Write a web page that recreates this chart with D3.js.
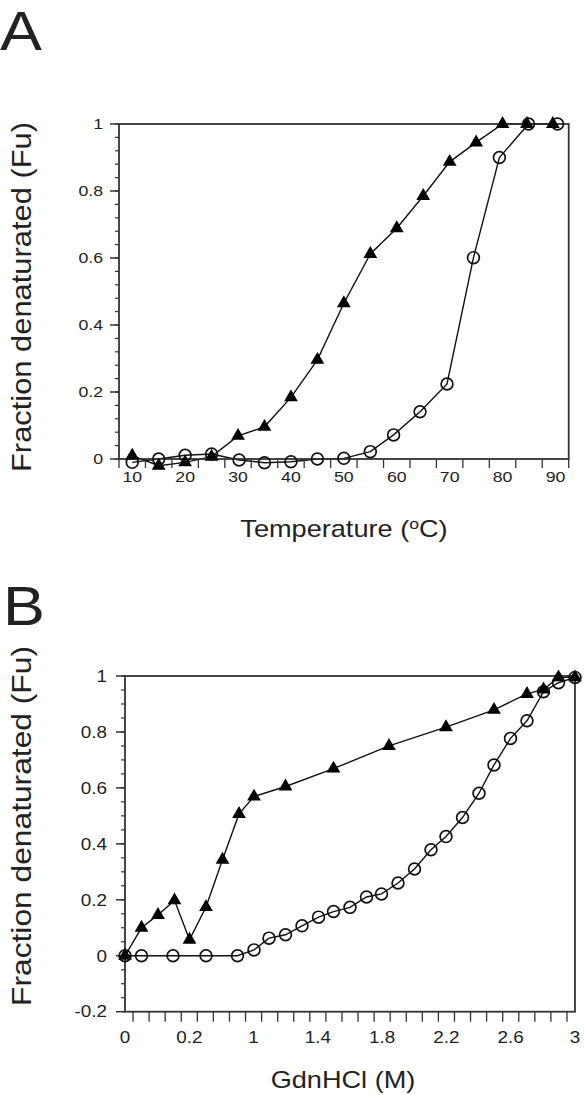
<!DOCTYPE html>
<html><head><meta charset="utf-8">
<script src="https://cdn.jsdelivr.net/npm/d3@7"></script>
<style>
body{margin:0;background:#fff}
svg{display:block}
text{font-family:"Liberation Sans",Arial,Helvetica,sans-serif;fill:#222}
</style>
</head><body>
<svg id="chart" width="584" height="1095"></svg>
<script>
// ---------- Panel A : thermal denaturation ----------
const tempTri  = [10,15,20,25,30,35,40,45,50,55,60,65,70,75,80,84.6,89.5];
const fuTriA   = [0.01,-0.02,-0.01,0.007,0.069,0.096,0.184,0.296,0.465,0.612,0.689,0.785,0.887,0.945,1,1,1];
const tempCirc = [10,15,20,25,30.2,35,40,45,50,55,59.4,64.4,69.5,74.5,79.4,84.9,90.4];
const fuCircA  = [-0.01,0,0.011,0.015,-0.003,-0.011,-0.008,0,0.002,0.022,0.072,0.141,0.224,0.601,0.9,1,1];
const tempTicks  = [7.5,12.5,17.5,22.5,27.5,32.5,37.5,42.5,47.5,52.5,57.5,62.5,67.5,72.5,77.5,82.5,87.5,92.5];
const tempLabels = [10,20,30,40,50,60,70,80,90];
const fuTicksA   = [0,0.2,0.4,0.6,0.8,1];
const fuLabelsA  = ["0","0.2","0.4","0.6","0.8","1"];

// ---------- Panel B : GdnHCl denaturation ----------
const gdnTri  = [0,0.11,0.22,0.33,0.43,0.54,0.65,0.76,0.86,1.07,1.39,1.76,2.14,2.46,2.68,2.79,2.89,3.0];
const fuTriB  = [0,0.10,0.146,0.198,0.057,0.174,0.343,0.507,0.569,0.605,0.669,0.75,0.817,0.879,0.936,0.952,0.995,0.995];
const gdnCirc = [0,0.11,0.32,0.54,0.75,0.86,0.96,1.07,1.18,1.29,1.39,1.5,1.61,1.71,1.82,1.93,2.04,2.14,2.25,2.36,2.46,2.57,2.68,2.79,2.89,3.0];
const fuCircB = [0,0,0,0,0,0.021,0.063,0.075,0.107,0.138,0.158,0.173,0.21,0.221,0.26,0.31,0.379,0.426,0.494,0.581,0.682,0.777,0.84,0.944,0.976,0.995];
const gdnTickCount = 28;                 // minor ticks at band centres
const gdnLabelPos  = [0,3/7,6/7,9/7,12/7,15/7,18/7,3];
const gdnLabels    = ["0","0.2","1","1.4","1.8","2.2","2.6","3"];
const fuTicksB  = [-0.2,0,0.2,0.4,0.6,0.8,1];
const fuLabelsB = ["-0.2","0","0.2","0.4","0.6","0.8","1"];

const svg = d3.select("#chart");
const SX = 1.18; // horizontal stretch of the original figure's lettering
const axisCol = "#333", lineCol = "#111";

function panel(o){
  const g = svg.append("g");
  const x = o.x, y = o.y;
  const [x0,x1] = x.range(), [yb,yt] = y.range();
  const line = d3.line().x(d=>x(d[0])).y(d=>y(d[1]));
  const triPts = o.triX.map((v,i)=>[v,o.triY[i]]);
  const cirPts = o.cirX.map((v,i)=>[v,o.cirY[i]]);
  g.append("path").attr("d",line(triPts)).attr("fill","none").attr("stroke",lineCol).attr("stroke-width",1.4);
  g.append("path").attr("d",line(cirPts)).attr("fill","none").attr("stroke",lineCol).attr("stroke-width",1.4);
  g.append("rect").attr("x",x0).attr("y",yt).attr("width",x1-x0).attr("height",yb-yt)
    .attr("fill","none").attr("stroke",axisCol).attr("stroke-width",1.8);
  o.xTicks.forEach(t=>{
    g.append("line").attr("x1",x(t)).attr("x2",x(t)).attr("y1",yb).attr("y2",yb+o.xTickLen)
      .attr("stroke",axisCol).attr("stroke-width",1.3);
  });
  o.xLabelPos.forEach((t,i)=>{
    g.append("g").attr("transform",`translate(${x(t)},${yb+o.xLabelDy})`)
      .append("text").attr("text-anchor","middle").attr("transform",`scale(${SX},1)`)
      .style("font-size",o.tickFont+"px").text(o.xLabels[i]);
  });
  o.yMinor.forEach(t=>{
    g.append("line").attr("x1",x0-4).attr("x2",x0).attr("y1",y(t)).attr("y2",y(t))
      .attr("stroke",axisCol).attr("stroke-width",1.2);
  });
  o.yTicks.forEach((t,i)=>{
    g.append("line").attr("x1",x0-9).attr("x2",x0).attr("y1",y(t)).attr("y2",y(t))
      .attr("stroke",axisCol).attr("stroke-width",1.5);
    g.append("g").attr("transform",`translate(${x0-o.yLabelDx},${y(t)})`)
      .append("text").attr("text-anchor","end").attr("dy","0.36em").attr("transform",`scale(${SX},1)`)
      .style("font-size",o.tickFont+"px").text(o.yLabels[i]);
  });
  g.selectAll(".tri").data(triPts).join("path")
    .attr("transform",d=>`translate(${x(d[0])},${y(d[1])})`)
    .attr("d",d3.symbol(d3.symbolTriangle,82)()).attr("fill","#000");
  g.selectAll(".cir").data(cirPts).join("circle")
    .attr("cx",d=>x(d[0])).attr("cy",d=>y(d[1])).attr("r",5.9)
    .attr("fill","none").attr("stroke","#111").attr("stroke-width",1.7);
  g.append("g").attr("transform",`translate(${o.yTitleX},${o.yTitleY}) rotate(-90) scale(1,${SX})`)
    .append("text").attr("text-anchor","middle").style("font-size","23px")
    .attr("textLength",o.yTitleLen).attr("lengthAdjust","spacingAndGlyphs")
    .text("Fraction denaturated (Fu)");
  svg.append("g").attr("transform",`translate(${o.letterX},${o.letterY})`)
    .append("text").attr("transform",`scale(${SX*0.95},1)`).style("font-size","56px").text(o.letter);
  return g;
}

// Panel A
const xA = d3.scaleLinear().domain([7.5,92.5]).range([119,568.7]);
const yA = d3.scaleLinear().domain([0,1]).range([459,124]);
const gA = panel({
  x:xA, y:yA, triX:tempTri, triY:fuTriA, cirX:tempCirc, cirY:fuCircA,
  xTicks:tempTicks, xTickLen:9, xLabelPos:tempLabels, xLabels:tempLabels.map(String), xLabelDy:23,
  yTicks:fuTicksA, yLabels:fuLabelsA, yMinor:d3.range(0,1.0001,0.04), yLabelDx:16,
  tickFont:15, yTitleX:31, yTitleY:297, yTitleLen:350, letter:"A", letterX:0, letterY:50
});
gA.append("g").attr("transform","translate(344,536.7)")
  .append("text").attr("text-anchor","middle").attr("transform",`scale(${SX},1)`).style("font-size","23px")
  .call(t=>{
    t.append("tspan").text("Temperature (");
    t.append("tspan").attr("dy","-8").style("font-size","15px").text("o");
    t.append("tspan").attr("dy","8").text("C)");
  });

// Panel B
const xB = d3.scaleLinear().domain([0,3]).range([125,575]);
const yB = d3.scaleLinear().domain([-0.2,1]).range([1011.7,676]);
const gB = panel({
  x:xB, y:yB, triX:gdnTri, triY:fuTriB, cirX:gdnCirc, cirY:fuCircB,
  xTicks:d3.range(gdnTickCount).map(i=>(i+0.5)*3/gdnTickCount), xTickLen:10,
  xLabelPos:gdnLabelPos, xLabels:gdnLabels, xLabelDy:31,
  yTicks:fuTicksB, yLabels:fuLabelsB, yMinor:d3.range(-0.2,1.0001,0.05), yLabelDx:18,
  tickFont:16, yTitleX:31, yTitleY:826, yTitleLen:360, letter:"B", letterX:3, letterY:625
});
gB.append("g").attr("transform","translate(343,1088)")
  .append("text").attr("text-anchor","middle").attr("transform",`scale(${SX},1)`).style("font-size","23px")
  .text("GdnHCl (M)");
</script>
</body></html>
